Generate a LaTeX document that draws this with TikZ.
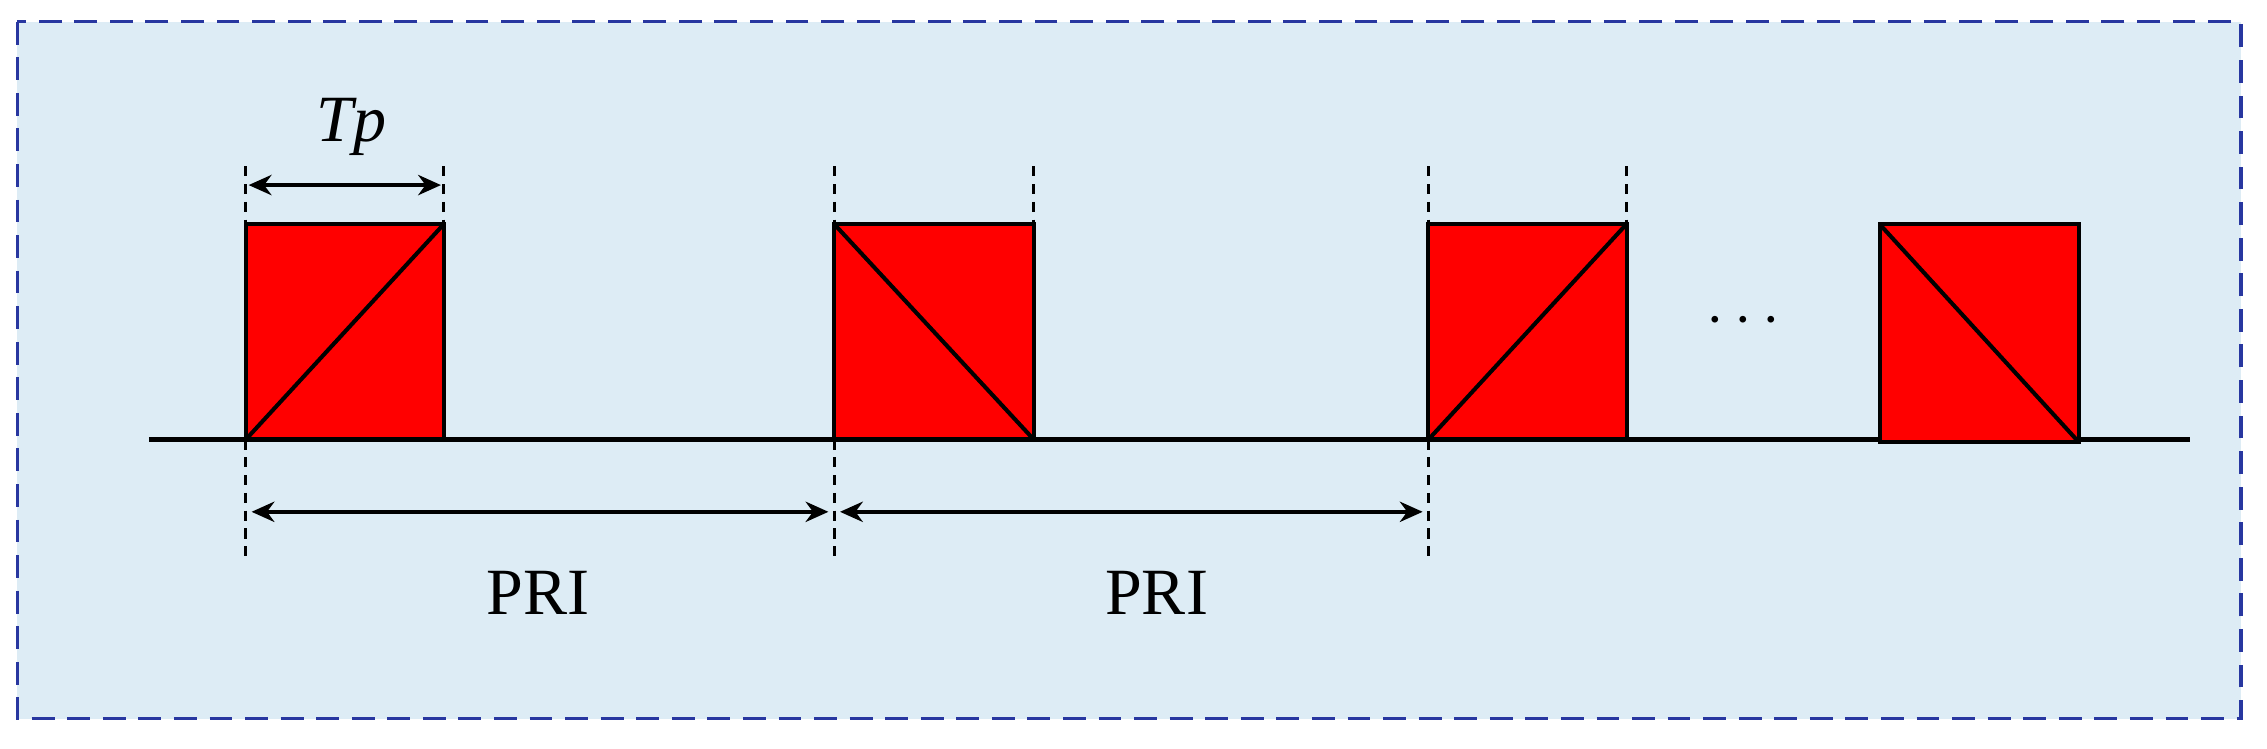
\documentclass[tikz,border=0pt]{standalone}
\usepackage{fontspec}
\setmainfont{Liberation Serif}
\usetikzlibrary{arrows.meta}
\definecolor{bgblue}{RGB}{221,236,245}
\definecolor{frameblue}{RGB}{40,55,160}
\definecolor{pulsered}{RGB}{255,0,0}
\tikzset{
  pulse/.style={draw=black,fill=pulsered,line width=1.6pt},
  guide/.style={dashed,line width=1.2pt,dash pattern=on 4pt off 3pt},
  dim/.style={line width=1.4pt,{Stealth[length=9pt,width=8pt]}-{Stealth[length=9pt,width=8pt]}},
  lbl/.style={font=\fontsize{26}{30}\selectfont}
}
\begin{document}
\begin{tikzpicture}[x=0.02cm,y=-0.02cm]
\useasboundingbox (0,0) rectangle (1568,518);
\draw[fill=bgblue,draw=frameblue,line width=1.3pt,dash pattern=on 9pt off 5pt] (12,15) rectangle (1550,497);
\draw[line width=1.6pt] (103,304) -- (1515,304);
% pulses
\draw[pulse] (170,155) rectangle (307,304); \draw[line width=1.6pt] (170,304) -- (307,155);
\draw[pulse] (577,155) rectangle (715,304); \draw[line width=1.6pt] (577,155) -- (715,304);
\draw[pulse] (988,155) rectangle (1125,304); \draw[line width=1.6pt] (988,304) -- (1125,155);
\draw[pulse] (1300,155) rectangle (1438,306); \draw[line width=1.6pt] (1300,155) -- (1438,306);
% guides
\foreach \x in {170,307,577,715,988,1125} \draw[guide] (\x,115) -- (\x,155);
\foreach \x in {170,577,988} \draw[guide] (\x,304) -- (\x,390);
% dimensions
\coordinate (t1) at (172,128); \coordinate (t2) at (305,128);
\draw[dim] (t1) -- (t2);
\node[lbl,font=\fontsize{26}{30}\selectfont\itshape] (tp) at (243,88) {Tp};
\coordinate (p1) at (174,354); \coordinate (p2) at (573,354);
\coordinate (p3) at (581,354); \coordinate (p4) at (984,354);
\draw[dim] (p1) -- (p2);
\draw[dim] (p3) -- (p4);
\node[lbl] (pri1) at (372,410) {PRI};
\node[lbl] (pri2) at (800,410) {PRI};
\node[lbl] (dots) at (1206,222) {$\cdots$};
\end{tikzpicture}
\end{document}
